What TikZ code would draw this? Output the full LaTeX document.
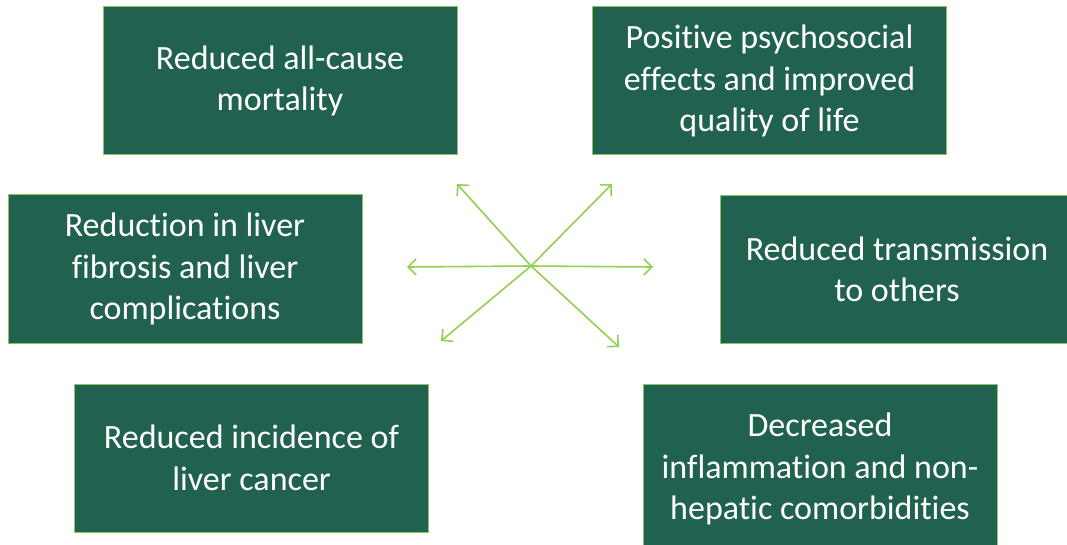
\documentclass[tikz,border=0pt]{standalone}
\usepackage{fontspec}
\setmainfont{Carlito}[Ligatures=NoCommon]
\usetikzlibrary{arrows.meta}
\definecolor{boxgreen}{HTML}{216150}
\definecolor{rimgreen}{HTML}{8DC45A}
\definecolor{spokegreen}{HTML}{92D050}

\begin{document}
\begin{tikzpicture}[x=1pt,y=-1pt]
\tikzstyle{benefit} = [draw=rimgreen,line width=1pt,fill=boxgreen,text=white,
  minimum width=354pt,minimum height=148pt,align=center,inner sep=0pt,
  font=\fontsize{34}{41.5}\selectfont]
\tikzstyle{spoke} = [draw=spokegreen,line width=1.6pt,-{Straight Barb[length=8pt,width=16pt]}]

\useasboundingbox (0,0) rectangle (1067,545);
\begin{scope}
\clip (0,0) rectangle (1067,545);

\node[benefit] (mortality) at (280,81) {Reduced all-cause\\mortality};
\node[benefit] (psycho) at (769.5,81) {Positive psychosocial\\effects and improved\\quality of life};
\node[benefit] (fibrosis) at (185,269) {Reduction in liver\\fibrosis and liver\\complications};
\node[benefit] (transmit) at (897,269.5) {Reduced transmission\\to others};
\node[benefit] (cancer) at (251.5,458) {Reduced incidence of\\liver cancer};
\node[benefit,minimum height=170pt] (inflam) at (820,469) {Decreased\\inflammation and non-\\hepatic comorbidities};

\coordinate (hub) at (531,266);
\coordinate (ul) at (457,184);
\coordinate (ur) at (612,184);
\coordinate (l) at (407,267);
\coordinate (r) at (653,267);
\coordinate (ll) at (441,341);
\coordinate (lr) at (619,347);

\foreach \e in {ul,ur,l,r,ll,lr}
  \draw[spoke] (hub) -- (\e);
\end{scope}
\end{tikzpicture}
\end{document}
